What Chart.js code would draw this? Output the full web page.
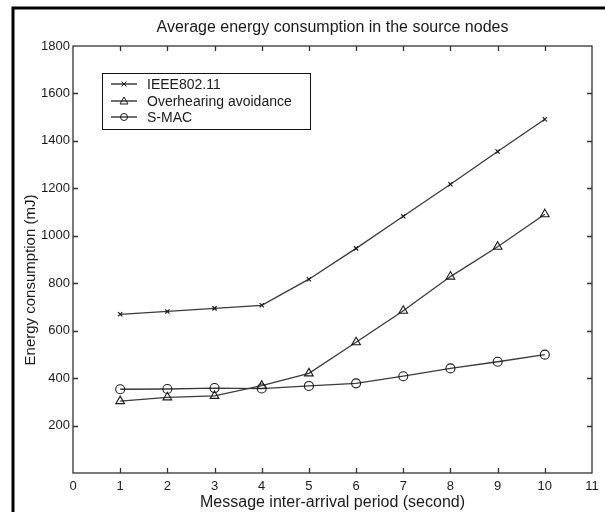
<!DOCTYPE html>
<html>
<head>
<meta charset="utf-8">
<script src="https://cdn.jsdelivr.net/npm/chart.js@4"></script>
<style>
  body { margin: 0; background: #fff; }
  #wrap { width: 605px; height: 512px; }
</style>
</head>
<body>
<div id="wrap"><canvas id="energyChart" width="605" height="512"></canvas></div>
<script>
var periods = [1, 2, 3, 4, 5, 6, 7, 8, 9, 10];
var ieee = [669, 681, 694, 707, 817, 947, 1082, 1217, 1355, 1491];
var overhearing = [303, 319, 325, 368, 420, 551, 684, 828, 954, 1091];
var smac = [353, 354, 358, 356, 367, 378, 408, 441, 469, 499];
var seriesNames = ["IEEE802.11", "Overhearing avoidance", "S-MAC"];
var chartTitle = "Average energy consumption in the source nodes";
var xTitle = "Message inter-arrival period (second)";
var yTitle = "Energy consumption (mJ)";

var lineColor = "#3a3a3a";
var markColor = "#1a1a1a";
var font = "'Liberation Sans', Arial, sans-serif";

function toPoints(arr) {
    var pts = [];
    for (var i = 0; i < periods.length; i++) {
        pts.push({ x: periods[i], y: arr[i] });
    }
    return pts;
}

function drawMark(ctx, style, x, y) {
    ctx.save();
    ctx.strokeStyle = markColor;
    ctx.lineWidth = 1;
    ctx.beginPath();
    if (style === "crossRot") {
        ctx.moveTo(x - 2.5, y - 2.5); ctx.lineTo(x + 2.5, y + 2.5);
        ctx.moveTo(x + 2.5, y - 2.5); ctx.lineTo(x - 2.5, y + 2.5);
    } else if (style === "triangle") {
        ctx.moveTo(x, y - 4); ctx.lineTo(x + 4, y + 3); ctx.lineTo(x - 4, y + 3); ctx.closePath();
    } else {
        ctx.arc(x, y, 3.5, 0, Math.PI * 2);
    }
    ctx.stroke();
    ctx.restore();
}

var decorPlugin = {
    id: "decor",
    beforeDraw: function (chart) {
        var ctx = chart.ctx;
        ctx.save();
        ctx.fillStyle = "#fff";
        ctx.fillRect(0, 0, chart.width, chart.height);
        // page frame (left and top edges only)
        ctx.strokeStyle = "#000";
        ctx.lineWidth = 3;
        ctx.beginPath();
        ctx.moveTo(13, chart.height); ctx.lineTo(13, 8); ctx.lineTo(chart.width, 8);
        ctx.stroke();
        ctx.restore();
    },
    afterDraw: function (chart) {
        var ctx = chart.ctx;
        var area = chart.chartArea;
        var xs = chart.scales.x, ys = chart.scales.y;
        ctx.save();
        // box
        ctx.strokeStyle = "#333";
        ctx.lineWidth = 1.3;
        ctx.strokeRect(area.left, area.top, area.right - area.left, area.bottom - area.top);
        // inward ticks
        ctx.beginPath();
        xs.ticks.forEach(function (t) {
            if (t.value <= xs.min || t.value >= xs.max) return;
            var px = Math.round(xs.getPixelForValue(t.value)) + 0.5;
            ctx.moveTo(px, area.bottom); ctx.lineTo(px, area.bottom - 5);
            ctx.moveTo(px, area.top); ctx.lineTo(px, area.top + 5);
        });
        ys.ticks.forEach(function (t) {
            if (t.value <= ys.min || t.value >= ys.max) return;
            var py = Math.round(ys.getPixelForValue(t.value)) + 0.5;
            ctx.moveTo(area.left, py); ctx.lineTo(area.left + 5, py);
            ctx.moveTo(area.right, py); ctx.lineTo(area.right - 5, py);
        });
        ctx.stroke();

        // titles
        ctx.fillStyle = "#1a1a1a";
        ctx.textAlign = "center";
        ctx.textBaseline = "middle";
        ctx.font = "16px " + font;
        ctx.fillText(chartTitle, (area.left + area.right) / 2, 28);
        ctx.fillText(xTitle, (area.left + area.right) / 2, 503);
        ctx.font = "15px " + font;
        ctx.save();
        ctx.translate(31, 280);
        ctx.rotate(-Math.PI / 2);
        ctx.fillText(yTitle, 0, 0);
        ctx.restore();

        // legend
        ctx.strokeStyle = "#111";
        ctx.lineWidth = 1;
        ctx.strokeRect(102.5, 73.5, 208, 56);
        var styles = ["crossRot", "triangle", "circle"];
        var rows = [84, 101, 117];
        ctx.font = "14px " + font;
        ctx.textAlign = "left";
        for (var i = 0; i < seriesNames.length; i++) {
            ctx.strokeStyle = "#222";
            ctx.lineWidth = 1.3;
            ctx.beginPath();
            ctx.moveTo(111, rows[i]); ctx.lineTo(137, rows[i]);
            ctx.stroke();
            drawMark(ctx, styles[i], 124, rows[i]);
            ctx.fillStyle = "#1a1a1a";
            ctx.fillText(seriesNames[i], 147, rows[i] + 1);
        }
        ctx.restore();
    }
};

var ctx = document.getElementById("energyChart").getContext("2d");
var chart = new Chart(ctx, {
    type: "line",
    data: {
        datasets: [
            {
                label: seriesNames[0],
                data: toPoints(ieee),
                borderColor: lineColor,
                borderWidth: 1.3,
                pointStyle: "crossRot",
                pointRadius: 3,
                pointBorderColor: markColor,
                pointBackgroundColor: "rgba(0,0,0,0)",
                pointBorderWidth: 1.2
            },
            {
                label: seriesNames[1],
                data: toPoints(overhearing),
                borderColor: lineColor,
                borderWidth: 1.3,
                pointStyle: "triangle",
                pointRadius: 5,
                pointBorderColor: markColor,
                pointBackgroundColor: "rgba(0,0,0,0)",
                pointBorderWidth: 1.1
            },
            {
                label: seriesNames[2],
                data: toPoints(smac),
                borderColor: lineColor,
                borderWidth: 1.3,
                pointStyle: "circle",
                pointRadius: 4.5,
                pointBorderColor: markColor,
                pointBackgroundColor: "rgba(0,0,0,0)",
                pointBorderWidth: 1.1
            }
        ]
    },
    options: {
        responsive: false,
        animation: false,
        devicePixelRatio: 1,
        layout: { padding: { left: 0, top: 46, right: 13, bottom: 0 } },
        plugins: {
            legend: { display: false },
            title: { display: false },
            tooltip: { enabled: false }
        },
        scales: {
            x: {
                type: "linear",
                min: 0,
                max: 11,
                ticks: { stepSize: 1, color: "#1a1a1a", font: { family: font, size: 13 }, padding: 6, maxRotation: 0 },
                grid: { display: false, drawTicks: false },
                border: { display: false },
                afterFit: function (scale) { scale.height = 39; }
            },
            y: {
                min: 0,
                max: 1800,
                ticks: {
                    stepSize: 200,
                    color: "#1a1a1a",
                    font: { family: font, size: 13 },
                    padding: 3,
                    callback: function (v) { return v === 0 ? "" : v; }
                },
                grid: { display: false, drawTicks: false },
                border: { display: false },
                afterFit: function (scale) { scale.width = 73; }
            }
        }
    },
    plugins: [decorPlugin]
});
</script>
</body>
</html>
